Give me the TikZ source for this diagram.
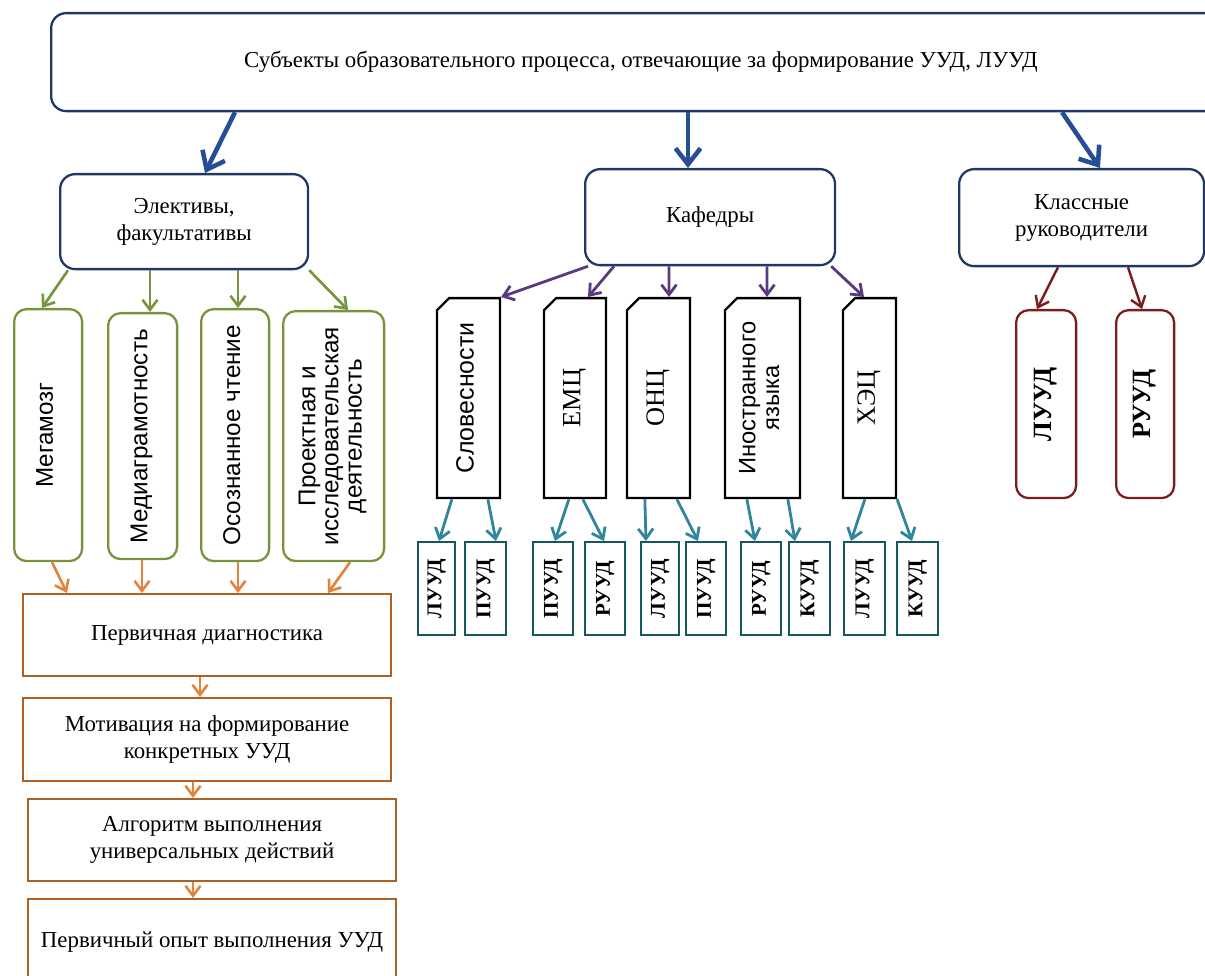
\documentclass[tikz,border=0pt]{standalone}
\usepackage{fontspec}
\setmainfont{Liberation Serif}
\newfontfamily\sansrm{Liberation Sans}
\usepackage{graphicx}
\usepackage{tikz}
\usetikzlibrary{shapes.misc,arrows.meta,calc}
\definecolor{navy}{RGB}{31,56,100}
\definecolor{arrowblue}{RGB}{38,78,150}
\definecolor{olive}{RGB}{119,147,60}
\definecolor{rust}{RGB}{176,96,32}
\definecolor{amber}{RGB}{226,132,60}
\definecolor{plum}{RGB}{88,58,128}
\definecolor{tealbox}{RGB}{22,88,98}
\definecolor{tealarrow}{RGB}{49,133,156}
\definecolor{maroon}{RGB}{122,30,30}
\newcommand{\vlabel}[1]{\rotatebox{90}{\begin{tabular}{@{}c@{}}#1\end{tabular}}}

\begin{document}
\begin{tikzpicture}[x=0.02cm, y=-0.02cm]
\tikzstyle{subject} = [rectangle, rounded corners=3mm, draw=navy, line width=1.3pt, align=center, anchor=north west, inner sep=0pt, font=\fontsize{13}{15.5}\selectfont]
\tikzstyle{course} = [rectangle, rounded corners=2.5mm, draw=olive, line width=1.3pt, anchor=north west, inner sep=0pt, font=\sansrm\fontsize{13.8}{13.2}\selectfont]
\tikzstyle{stage} = [rectangle, draw=rust, line width=1.3pt, align=center, anchor=north west, inner sep=0pt, font=\fontsize{13}{15.5}\selectfont]
\tikzstyle{dept} = [chamfered rectangle, chamfered rectangle corners=north west, chamfered rectangle xsep=1.2mm, chamfered rectangle ysep=1.2mm, draw=black, line width=1.3pt, anchor=north, inner sep=0pt, minimum height=40mm, font=\fontsize{15}{15}\selectfont]
\tikzstyle{uud} = [rectangle, draw=tealbox, line width=1.3pt, anchor=north west, inner sep=0pt, minimum height=18.6mm, font=\bfseries\fontsize{12}{13}\selectfont]
\tikzstyle{kluud} = [rectangle, rounded corners=2.5mm, draw=maroon, line width=1.3pt, anchor=north west, inner sep=0pt, minimum height=37.6mm, font=\bfseries\fontsize{15}{16}\selectfont]
\tikzstyle{bluearrow} = [arrowblue, line width=2.6pt, -{Straight Barb[length=3.2mm, width=5mm]}]
\tikzstyle{greenarrow} = [olive, line width=1.5pt, -{Straight Barb[length=2mm, width=3mm]}]
\tikzstyle{orangearrow} = [amber, line width=1.5pt, -{Straight Barb[length=2mm, width=3mm]}]
\tikzstyle{purplearrow} = [plum, line width=1.6pt, -{Straight Barb[length=2mm, width=3mm]}]
\tikzstyle{tealarr} = [tealarrow, line width=1.6pt, -{Straight Barb[length=2mm, width=3mm]}]
\tikzstyle{redarrow} = [maroon, line width=1.4pt, -{Straight Barb[length=2mm, width=3mm]}]

\useasboundingbox (0,0) rectangle (1205,976);
\clip (0,0) rectangle (1205,976);

\node (top) [subject, minimum width=236mm, minimum height=19.6mm] at (50,12) {Субъекты образовательного процесса, отвечающие за формирование УУД, ЛУУД};
\node (elect) [subject, minimum width=49.6mm, minimum height=19mm] at (59,173) {Элективы,\\ факультативы};
\node (kaf) [subject, minimum width=50mm, minimum height=19.2mm] at (584,168) {Кафедры};
\node (klass) [subject, minimum width=49mm, minimum height=19.4mm] at (958,168) {Классные\\ руководители};

% elective courses
\node (meg) [course, minimum width=13.6mm, minimum height=50.4mm] at (13,308) {\vlabel{Мегамозг}};
\node (media) [course, minimum width=13.8mm, minimum height=49.2mm] at (107,312) {\vlabel{Медиаграмотность}};
\node (osozn) [course, minimum width=13.6mm, minimum height=50.4mm] at (200,308) {\vlabel{Осознанное чтение}};
\node (proekt) [course, minimum width=20.2mm, minimum height=50mm] at (282,310) {\vlabel{Проектная и\\ исследовательская\\ деятельность}};

\node (perv) [stage, minimum width=73.6mm, minimum height=16.4mm] at (22,593) {Первичная диагностика};
\node (motiv) [stage, minimum width=73.6mm, minimum height=16.6mm] at (22,697) {Мотивация на формирование\\ конкретных УУД};
\node (algo) [stage, minimum width=73.6mm, minimum height=16.4mm] at (27,798) {Алгоритм выполнения\\ универсальных действий};
\node (opyt) [stage, minimum width=73.6mm, minimum height=17mm] at (27,898) {Первичный опыт выполнения УУД};

% departments
\node (slov) [dept, minimum width=12.6mm, font=\sansrm\fontsize{14.2}{14}\selectfont] at (468.5,297) {\vlabel{Словесности}};
\node (emc) [dept, minimum width=12.4mm] at (575,297) {\vlabel{ЕМЦ}};
\node (onc) [dept, minimum width=12.6mm] at (658.5,297) {\vlabel{ОНЦ}};
\node (inostr) [dept, minimum width=15mm, font=\sansrm\fontsize{13.5}{13.5}\selectfont] at (762.5,297) {\vlabel{Иностранного\\ языка}};
\node (hec) [dept, minimum width=10.6mm] at (869.5,297) {\vlabel{ХЭЦ}};

\node (s1) [uud, minimum width=7.4mm] at (417,541) {\rotatebox{90}{ЛУУД}};
\node (s2) [uud, minimum width=8.2mm] at (464,541) {\rotatebox{90}{ПУУД}};
\node (s3) [uud, minimum width=8mm] at (532,541) {\rotatebox{90}{ПУУД}};
\node (s4) [uud, minimum width=8mm] at (584,541) {\rotatebox{90}{РУУД}};
\node (s5) [uud, minimum width=7.6mm] at (640,541) {\rotatebox{90}{ЛУУД}};
\node (s6) [uud, minimum width=8mm] at (685,541) {\rotatebox{90}{ПУУД}};
\node (s7) [uud, minimum width=8mm] at (740,541) {\rotatebox{90}{РУУД}};
\node (s8) [uud, minimum width=8.2mm] at (788,541) {\rotatebox{90}{КУУД}};
\node (s9) [uud, minimum width=8.2mm] at (843,541) {\rotatebox{90}{ЛУУД}};
\node (s10) [uud, minimum width=8.2mm] at (896,541) {\rotatebox{90}{КУУД}};

\node (kl1) [kluud, minimum width=12mm] at (1015,309) {\rotatebox{90}{ЛУУД}};
\node (kl2) [kluud, minimum width=11.6mm] at (1115,309) {\rotatebox{90}{РУУД}};

\draw [bluearrow] ($(top.south west)+(185,0)$) -- ($(elect.north west)+(146,0)$);
\draw [bluearrow] ($(top.south west)+(638,0)$) -- ($(kaf.north west)+(104,0)$);
\draw [bluearrow] ($(top.south west)+(1012,0)$) -- ($(klass.north west)+(142,0)$);

\draw [greenarrow] ($(elect.south west)+(9,0)$) -- ($(meg.north west)+(29,0)$);
\draw [greenarrow] ($(elect.south west)+(91,0)$) -- ($(media.north west)+(43,0)$);
\draw [greenarrow] ($(elect.south west)+(179,0)$) -- ($(osozn.north west)+(38,0)$);
\draw [greenarrow] (elect.south east) -- ($(proekt.north west)+(66,0)$);

\draw [orangearrow] ($(meg.south west)+(39,0)$) -- ($(perv.north west)+(45,0)$);
\draw [orangearrow] ($(media.south west)+(35,0)$) -- ($(perv.north west)+(120,0)$);
\draw [orangearrow] ($(osozn.south west)+(38,0)$) -- ($(perv.north west)+(216,0)$);
\draw [orangearrow] ($(proekt.south west)+(68,0)$) -- ($(perv.north west)+(306,0)$);
\draw [orangearrow] ($(perv.south west)+(178,0)$) -- ($(motiv.north west)+(178,0)$);
\draw [orangearrow] ($(motiv.south west)+(171,0)$) -- ($(algo.north west)+(166,0)$);
\draw [orangearrow] ($(algo.south west)+(166,0)$) -- ($(opyt.north west)+(166,0)$);

\draw [purplearrow] ($(kaf.south west)+(4,0)$) -- (slov.north east);
\draw [purplearrow] ($(kaf.south west)+(30,0)$) -- ($(emc.north)+(13,0)$);
\draw [purplearrow] ($(kaf.south west)+(85,0)$) -- ($(onc.north)+(10.5,0)$);
\draw [purplearrow] ($(kaf.south west)+(183,0)$) -- ($(inostr.north)+(4.5,0)$);
\draw [purplearrow] ($(kaf.south east)+(-5,0)$) -- ($(hec.north)+(-5.5,0)$);

\draw [tealarr] ($(slov.south west)+(16,0)$) -- ($(s1.north west)+(22,0)$);
\draw [tealarr] ($(slov.south west)+(52,0)$) -- ($(s2.north west)+(32,0)$);
\draw [tealarr] ($(emc.south west)+(26,0)$) -- ($(s3.north west)+(23,0)$);
\draw [tealarr] ($(emc.south west)+(40,0)$) -- ($(s4.north west)+(20,0)$);
\draw [tealarr] ($(onc.south west)+(19,0)$) -- ($(s5.north west)+(6,0)$);
\draw [tealarr] ($(onc.south west)+(51,0)$) -- ($(s6.north west)+(13,0)$);
\draw [tealarr] ($(inostr.south west)+(23,0)$) -- ($(s7.north west)+(15,0)$);
\draw [tealarr] ($(inostr.south west)+(64,0)$) -- ($(s8.north west)+(7,0)$);
\draw [tealarr] ($(hec.south west)+(23,0)$) -- ($(s9.north west)+(8,0)$);
\draw [tealarr] (hec.south east) -- ($(s10.north west)+(16,0)$);

\draw [redarrow] ($(klass.south west)+(100,0)$) -- ($(kl1.north west)+(22,0)$);
\draw [redarrow] ($(klass.south west)+(170,0)$) -- ($(kl2.north west)+(27,0)$);

\end{tikzpicture}
\end{document}
